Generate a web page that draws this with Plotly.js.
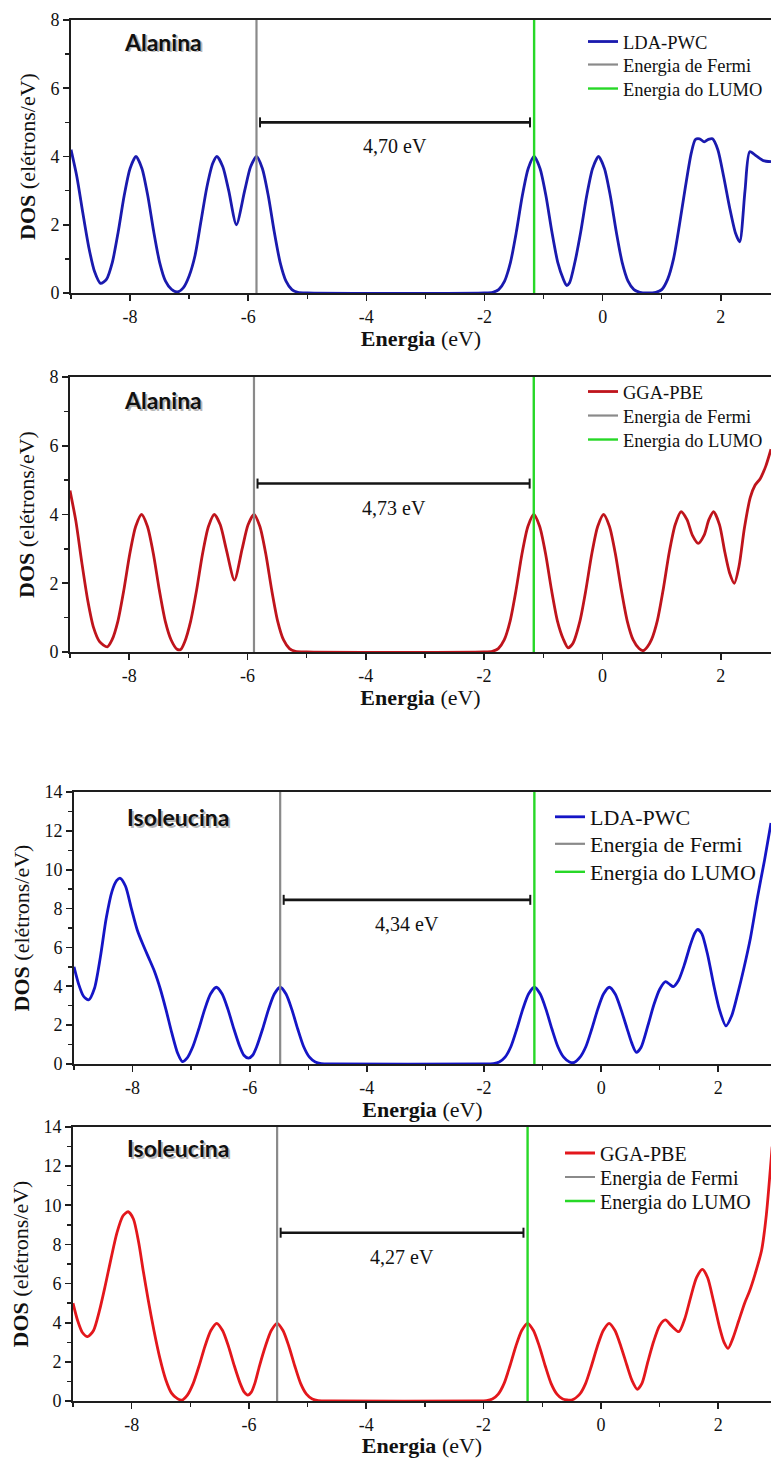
<!DOCTYPE html>
<html><head><meta charset="utf-8">
<script src="https://cdn.plot.ly/plotly-3.0.1.min.js"></script>
<style>html,body{margin:0;padding:0;background:#fff}#chart{width:771px;height:1458px}</style>
</head><body><div id="chart"></div>
<script>
// ---------- DATA ----------
const alaLdaE = [-9.0,-8.9,-8.8,-8.7,-8.6,-8.5,-8.4,-8.3,-8.2,-8.1,-8.0,-7.9,-7.8,-7.7,-7.6,-7.5,-7.4,-7.3,-7.2,-7.1,-7.0,-6.9,-6.8,-6.7,-6.6,-6.53,-6.43,-6.33,-6.2,-6.06,-5.96,-5.86,-5.76,-5.66,-5.56,-5.46,-5.36,-5.26,-5.16,-5.0,-2.0,-1.86,-1.76,-1.66,-1.56,-1.46,-1.36,-1.26,-1.16,-1.06,-0.96,-0.86,-0.76,-0.66,-0.61,-0.56,-0.47,-0.37,-0.27,-0.17,-0.07,0.03,0.13,0.23,0.33,0.43,0.53,0.63,0.75,0.9,1.0,1.1,1.2,1.3,1.4,1.5,1.57,1.64,1.72,1.79,1.86,1.95,2.05,2.15,2.25,2.32,2.41,2.49,2.6,2.72,2.85];
const alaLdaDos = [4.2,3.4,2.35,1.35,0.62,0.28,0.4,0.9,1.8,2.85,3.65,4.0,3.65,2.85,1.8,0.9,0.35,0.11,0.03,0.15,0.5,1.1,2.1,3.1,3.8,4.0,3.7,3.0,2.0,3.0,3.7,4.0,3.65,2.85,1.8,0.9,0.35,0.1,0.02,0,0,0.02,0.1,0.35,0.9,1.8,2.85,3.65,4.0,3.65,2.85,1.8,0.9,0.38,0.22,0.3,0.9,1.8,2.85,3.65,4.0,3.65,2.85,1.8,0.9,0.35,0.1,0.02,0,0.02,0.1,0.4,1.0,2.0,3.1,4.1,4.5,4.52,4.43,4.5,4.52,4.2,3.4,2.5,1.75,1.5,3.0,4.14,4.02,3.88,3.85];

const alaGgaE = [-9.0,-8.9,-8.8,-8.7,-8.6,-8.5,-8.37,-8.29,-8.19,-8.09,-7.99,-7.89,-7.79,-7.69,-7.59,-7.49,-7.39,-7.29,-7.19,-7.13,-7.06,-6.96,-6.86,-6.76,-6.66,-6.56,-6.46,-6.36,-6.22,-6.09,-5.99,-5.89,-5.79,-5.69,-5.59,-5.49,-5.39,-5.29,-5.19,-5.0,-2.0,-1.86,-1.76,-1.66,-1.56,-1.46,-1.36,-1.26,-1.16,-1.06,-0.96,-0.86,-0.76,-0.66,-0.58,-0.5,-0.38,-0.28,-0.18,-0.08,0.02,0.12,0.22,0.32,0.42,0.52,0.62,0.69,0.76,0.83,0.93,1.03,1.13,1.23,1.33,1.43,1.52,1.62,1.72,1.8,1.88,1.98,2.07,2.15,2.23,2.31,2.4,2.5,2.58,2.67,2.76,2.85];
const alaGgaDos = [4.7,3.8,2.6,1.5,0.7,0.3,0.15,0.35,0.9,1.8,2.85,3.65,4.0,3.65,2.85,1.8,0.9,0.35,0.08,0.07,0.3,0.9,1.8,2.85,3.65,4.0,3.7,3.0,2.09,3.0,3.7,4.0,3.65,2.85,1.8,0.9,0.35,0.1,0.02,0,0,0.02,0.1,0.35,0.9,1.8,2.85,3.65,4.0,3.65,2.85,1.8,0.9,0.37,0.12,0.25,0.9,1.8,2.85,3.65,4.0,3.65,2.85,1.8,0.9,0.35,0.1,0.04,0.15,0.36,0.92,1.84,2.9,3.7,4.08,3.85,3.4,3.16,3.4,3.85,4.08,3.7,2.9,2.3,2.0,2.5,3.6,4.5,4.85,5.05,5.4,5.9];

const isoLdaE = [-9.0,-8.92,-8.84,-8.75,-8.65,-8.55,-8.45,-8.35,-8.27,-8.21,-8.12,-8.02,-7.92,-7.83,-7.73,-7.63,-7.53,-7.43,-7.33,-7.23,-7.15,-7.07,-6.97,-6.87,-6.77,-6.67,-6.57,-6.47,-6.37,-6.27,-6.17,-6.1,-6.02,-5.95,-5.88,-5.78,-5.68,-5.58,-5.48,-5.38,-5.28,-5.18,-5.08,-4.98,-4.88,-4.78,-4.6,-2.0,-1.84,-1.74,-1.64,-1.54,-1.44,-1.34,-1.24,-1.14,-1.04,-0.94,-0.84,-0.74,-0.64,-0.54,-0.46,-0.36,-0.26,-0.16,-0.06,0.04,0.14,0.24,0.34,0.44,0.52,0.6,0.68,0.8,0.9,1.0,1.1,1.17,1.23,1.32,1.42,1.52,1.6,1.65,1.72,1.82,1.92,2.02,2.13,2.23,2.33,2.43,2.55,2.67,2.79,2.9];
const isoLdaDos = [5.0,4.1,3.5,3.3,3.9,5.5,7.5,8.9,9.45,9.56,9.15,8.0,6.9,6.2,5.5,4.8,3.9,2.8,1.6,0.55,0.12,0.3,0.9,1.8,2.8,3.6,3.95,3.6,2.8,1.8,0.9,0.45,0.3,0.45,0.9,1.8,2.8,3.6,3.95,3.6,2.8,1.8,0.9,0.35,0.1,0.02,0,0,0.02,0.1,0.35,0.9,1.8,2.8,3.6,3.95,3.6,2.8,1.8,0.9,0.35,0.1,0.08,0.35,0.9,1.8,2.8,3.6,3.95,3.6,2.8,1.85,1.1,0.6,0.85,2.0,3.05,3.85,4.24,4.1,3.98,4.3,5.1,6.1,6.75,6.93,6.7,5.6,4.1,2.8,1.96,2.5,3.6,4.84,6.5,8.6,10.5,12.4];

const isoGgaE = [-9.0,-8.92,-8.84,-8.75,-8.65,-8.55,-8.45,-8.35,-8.25,-8.15,-8.06,-7.97,-7.88,-7.8,-7.72,-7.62,-7.52,-7.42,-7.32,-7.22,-7.14,-7.05,-6.95,-6.85,-6.75,-6.65,-6.55,-6.45,-6.35,-6.25,-6.15,-6.08,-6.02,-5.96,-5.9,-5.82,-5.72,-5.62,-5.52,-5.42,-5.32,-5.22,-5.12,-5.02,-4.92,-4.82,-4.6,-2.1,-1.95,-1.85,-1.75,-1.65,-1.55,-1.45,-1.35,-1.25,-1.15,-1.05,-0.95,-0.85,-0.75,-0.65,-0.5,-0.36,-0.26,-0.16,-0.06,0.04,0.14,0.24,0.34,0.44,0.53,0.62,0.7,0.8,0.9,1.0,1.1,1.2,1.33,1.43,1.53,1.63,1.73,1.82,1.92,2.02,2.1,2.17,2.25,2.35,2.45,2.53,2.63,2.74,2.82,2.92];
const isoGgaDos = [5.0,4.1,3.5,3.29,3.6,4.6,5.9,7.3,8.6,9.45,9.67,9.3,8.1,6.6,5.2,3.6,2.2,1.1,0.4,0.12,0.05,0.3,0.9,1.8,2.8,3.6,3.97,3.6,2.8,1.8,0.9,0.45,0.3,0.45,0.9,1.8,2.8,3.6,3.97,3.6,2.8,1.8,0.9,0.35,0.1,0.02,0,0,0.02,0.1,0.35,0.9,1.8,2.8,3.6,3.97,3.6,2.8,1.8,0.9,0.35,0.1,0.05,0.35,0.9,1.8,2.8,3.6,3.97,3.6,2.8,1.85,1.05,0.6,0.9,2.0,3.05,3.85,4.14,3.85,3.54,4.2,5.3,6.3,6.73,6.3,5.1,3.8,3.0,2.69,3.2,4.1,5.0,5.58,6.5,7.7,9.5,13.0];

const fermiLevels = [-5.86, -5.89, -5.48, -5.52];
const lumoLevels  = [-1.16, -1.16, -1.14, -1.25];
const gapLabels   = ['4,70 eV', '4,73 eV', '4,34 eV', '4,27 eV'];
const gapLevels   = [5.0, 4.9, 8.45, 8.6];
const methods     = ['LDA-PWC', 'GGA-PBE', 'LDA-PWC', 'GGA-PBE'];
const molecules   = ['Alanina', 'Alanina', 'Isoleucina', 'Isoleucina'];
const yMaxes      = [8, 8, 14, 14];
const xTickVals   = [-8, -6, -4, -2, 0, 2];
const xTickText   = ['-8', '-6', '-4', '-2', '0', '2'];
const xMinorVals  = [-9, -7, -5, -3, -1, 1];
const fermiName   = 'Energia de Fermi';
const lumoName    = 'Energia do LUMO';
const xTitleText  = '<b>Energia</b> (eV)';
const yTitleText  = '<b>DOS</b> (elétrons/eV)';

// ---------- STYLE ----------
const SERIF = 'Liberation Serif, Times New Roman, serif';
const SANS = 'Lato, Liberation Sans, sans-serif';
const curveColors = ['#1a1aae', '#bf141c', '#1515c6', '#e3171c'];
const W = 771, H = 1458;
const xDomPx = [[71, 771], [70, 771], [74, 771], [73, 771]];
const yDomPx = [[20, 293], [377, 652], [792, 1064], [1127, 1401]];
const xRanges = [[-9, 2.85], [-9, 2.85], [-9, 2.9], [-9, 2.9]];
// legend entry rows (px centres), left x and font size per panel
const legendLayout = [
  {x: 583, rows: [42, 65, 89], size: 18.5},
  {x: 583, rows: [392, 416, 440], size: 18.5},
  {x: 550, rows: [817, 844, 872], size: 22},
  {x: 560, rows: [1153, 1177, 1201], size: 20}
];
const labelPos = [[163, 42], [163, 400], [178, 817], [178, 1148]];
const axisColor = '#1e1e1e';

const series = [
  {E: alaLdaE, D: alaLdaDos},
  {E: alaGgaE, D: alaGgaDos},
  {E: isoLdaE, D: isoLdaDos},
  {E: isoGgaE, D: isoGgaDos}
];

const traces = [];
const layout = {
  width: W, height: H,
  margin: {l: 0, r: 0, t: 0, b: 0},
  paper_bgcolor: '#fff', plot_bgcolor: 'rgba(0,0,0,0)',
  font: {family: SERIF, color: '#111'},
  showlegend: true,
  annotations: [], shapes: []
};

let legendIdx = 0;
function nextLegend(i, row) {
  const id = legendIdx === 0 ? 'legend' : 'legend' + (legendIdx + 1);
  legendIdx++;
  const L = legendLayout[i];
  layout[id] = {
    x: L.x / W, y: 1 - L.rows[row] / H, xanchor: 'left', yanchor: 'middle',
    bgcolor: 'rgba(0,0,0,0)', borderwidth: 0,
    font: {family: SERIF, size: L.size, color: '#111'}
  };
  return id;
}

series.forEach((s, i) => {
  const sfx = i === 0 ? '' : String(i + 1);
  const xa = 'x' + sfx, ya = 'y' + sfx;
  traces.push({
    x: s.E, y: s.D, xaxis: xa, yaxis: ya, legend: nextLegend(i, 0),
    type: 'scatter', mode: 'lines', name: methods[i],
    line: {color: curveColors[i], width: 2.8, shape: 'spline', smoothing: 0.7}
  });
  traces.push({
    x: [fermiLevels[i], fermiLevels[i]], y: [0, yMaxes[i]], xaxis: xa, yaxis: ya, legend: nextLegend(i, 1),
    type: 'scatter', mode: 'lines', name: fermiName,
    line: {color: '#8a8a8a', width: 2.2}
  });
  traces.push({
    x: [lumoLevels[i], lumoLevels[i]], y: [0, yMaxes[i]], xaxis: xa, yaxis: ya, legend: nextLegend(i, 2),
    type: 'scatter', mode: 'lines', name: lumoName,
    line: {color: '#27d827', width: 2.4}
  });

  layout['xaxis' + sfx] = {
    domain: [xDomPx[i][0] / W, xDomPx[i][1] / W], range: xRanges[i], anchor: ya,
    showline: true, mirror: true, linecolor: axisColor, linewidth: 1.9,
    ticks: 'outside', ticklen: 6, tickwidth: 1.6, tickcolor: axisColor,
    tickmode: 'array', tickvals: xTickVals, ticktext: xTickText,
    minor: {ticks: 'outside', ticklen: 4, tickwidth: 1.3, tickcolor: axisColor, tickmode: 'array', tickvals: xMinorVals},
    showgrid: false, zeroline: false,
    tickfont: {family: SERIF, size: 18, color: '#111'},
    title: {text: xTitleText, font: {family: SERIF, size: 22, color: '#111'}, standoff: 5}
  };
  layout['yaxis' + sfx] = {
    domain: [1 - yDomPx[i][1] / H, 1 - yDomPx[i][0] / H], range: [0, yMaxes[i]], anchor: xa,
    showline: true, linecolor: axisColor, linewidth: 1.9,
    ticks: 'outside', ticklen: 6, tickwidth: 1.6, tickcolor: axisColor, dtick: 2, tick0: 0,
    minor: {ticks: 'outside', ticklen: 4, tickwidth: 1.3, tickcolor: axisColor, dtick: 1},
    showgrid: false, zeroline: false,
    tickfont: {family: SERIF, size: 18, color: '#111'},
    title: {text: yTitleText, font: {family: SERIF, size: 22, color: '#111'}, standoff: 9}
  };

  // molecule label with soft shadow
  const lx = labelPos[i][0] / W, ly = 1 - labelPos[i][1] / H;
  layout.annotations.push({
    xref: 'paper', yref: 'paper', x: lx, y: ly, xanchor: 'center', yanchor: 'middle',
    xshift: 1.5, yshift: -1.5,
    text: '<b>' + molecules[i] + '</b>', showarrow: false,
    font: {family: SANS, size: 23, color: 'rgba(0,0,0,0.28)'}
  });
  layout.annotations.push({
    xref: 'paper', yref: 'paper', x: lx, y: ly, xanchor: 'center', yanchor: 'middle',
    text: '<b>' + molecules[i] + '</b>', showarrow: false,
    font: {family: SANS, size: 23, color: '#111'}
  });

  // gap bracket
  const x0 = fermiLevels[i] + 0.06, x1 = lumoLevels[i] - 0.07, gy = gapLevels[i];
  layout.shapes.push({type: 'line', xref: xa, yref: ya, x0: x0, x1: x1, y0: gy, y1: gy,
    line: {color: '#151515', width: 2.6}});
  [x0, x1].forEach(xc => layout.shapes.push({
    type: 'line', xref: xa, yref: ya, x0: xc, x1: xc,
    ysizemode: 'pixel', yanchor: gy, y0: -5, y1: 5, line: {color: '#151515', width: 2}
  }));
  layout.annotations.push({
    xref: xa, yref: ya, x: (x0 + x1) / 2, y: gy, yshift: -24, xanchor: 'center', yanchor: 'middle',
    text: gapLabels[i], showarrow: false,
    font: {family: SERIF, size: 20, color: '#111'}
  });
});

Plotly.newPlot('chart', traces, layout, {displayModeBar: false, staticPlot: true});
</script></body></html>
